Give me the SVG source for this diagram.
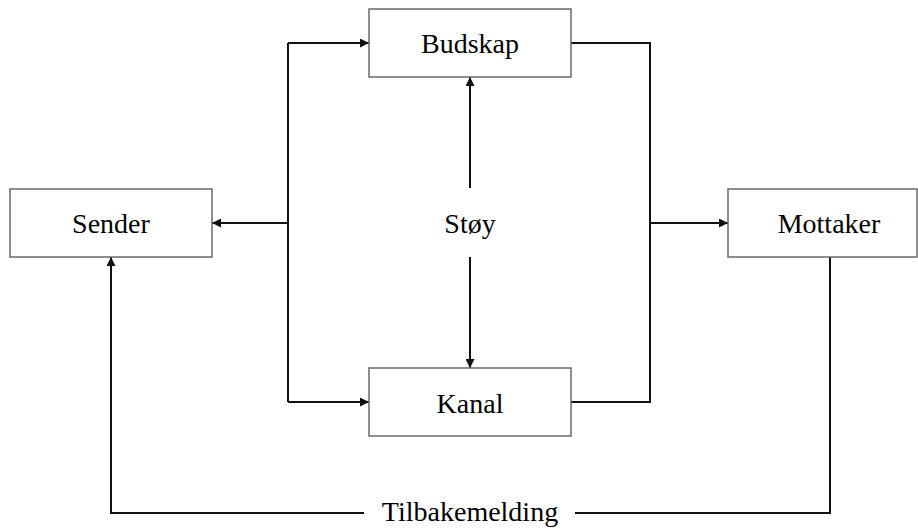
<svg xmlns="http://www.w3.org/2000/svg" width="918" height="528" viewBox="0 0 918 528">
  <style>
    .box { fill: #ffffff; stroke: #6a6a6a; stroke-width: 1.5; }
    .lbl { font-family: "Liberation Serif", "Times New Roman", serif; font-size: 28px; fill: #000000; text-anchor: middle; }
    .wire { fill: none; stroke: #111111; stroke-width: 2; }
  </style>
  <defs>
    <marker id="arrow" viewBox="0 0 10 10" refX="10" refY="5" markerWidth="9" markerHeight="9" markerUnits="userSpaceOnUse" orient="auto">
      <path d="M0,0 L10,5 L0,10 z" fill="#111111"/>
    </marker>
  </defs>
  <rect width="918" height="528" fill="#ffffff"/>

  <g id="connectors">
    <!-- left trunk feeding Budskap, Kanal and back to Sender -->
    <path class="wire" d="M288,43 V402"/>
    <path class="wire" d="M288,43 H369" marker-end="url(#arrow)"/>
    <path class="wire" d="M288,402 H369" marker-end="url(#arrow)"/>
    <path class="wire" d="M288,223 H212" marker-end="url(#arrow)"/>
    <!-- right trunk joining Budskap and Kanal toward Mottaker -->
    <path class="wire" d="M571,43 H650 V402 H571"/>
    <path class="wire" d="M650,223 H728" marker-end="url(#arrow)"/>
    <!-- noise arrows -->
    <path class="wire" d="M470,188 V77" marker-end="url(#arrow)"/>
    <path class="wire" d="M470,257 V368" marker-end="url(#arrow)"/>
    <!-- feedback loop -->
    <path class="wire" d="M364,513 H111 V257" marker-end="url(#arrow)"/>
    <path class="wire" d="M575,513 H830 V257"/>
  </g>

  <g id="sender">
    <rect class="box" x="10" y="189" width="202" height="68"/>
    <text class="lbl" x="111" y="233">Sender</text>
  </g>
  <g id="budskap">
    <rect class="box" x="369" y="9" width="202" height="68"/>
    <text class="lbl" x="470" y="53">Budskap</text>
  </g>
  <g id="kanal">
    <rect class="box" x="369" y="368" width="202" height="68"/>
    <text class="lbl" x="470" y="413">Kanal</text>
  </g>
  <g id="mottaker">
    <rect class="box" x="728" y="189" width="189" height="68"/>
    <text class="lbl" x="829" y="233">Mottaker</text>
  </g>
  <g id="stoy">
    <text class="lbl" x="470" y="233">Støy</text>
  </g>
  <g id="tilbakemelding">
    <text class="lbl" x="470" y="521">Tilbakemelding</text>
  </g>
</svg>
